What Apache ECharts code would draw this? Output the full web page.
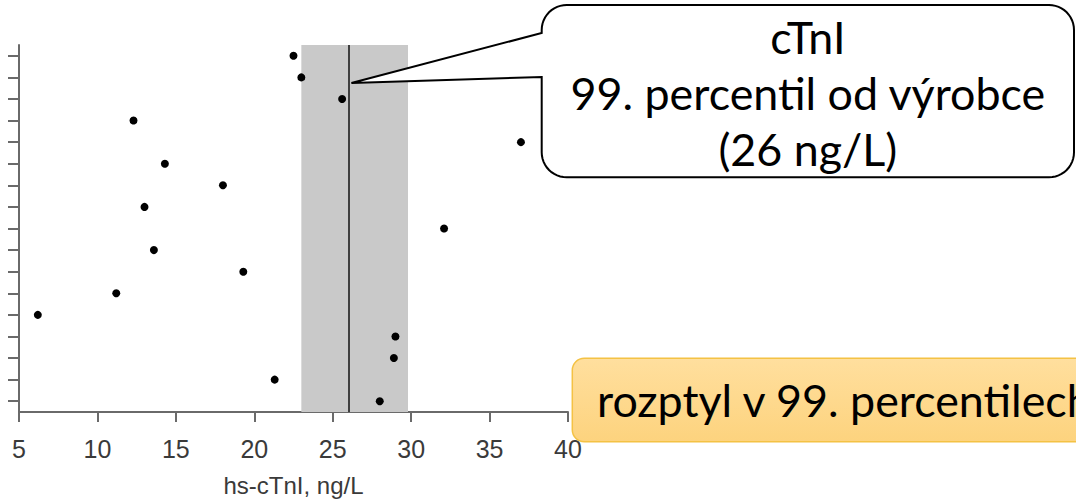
<!DOCTYPE html>
<html>
<head>
<meta charset="utf-8">
<title>hs-cTnI 99. percentil</title>
<script src="https://cdn.jsdelivr.net/npm/echarts@6/dist/echarts.min.js"></script>
<style>
  html, body { margin: 0; padding: 0; background: #ffffff; }
  #chart { width: 1076px; height: 499px; }
  #chart text { font-variant-ligatures: none; font-feature-settings: "liga" 0, "clig" 0; }
</style>
</head>
<body>
<div id="chart"></div>
<script>
// One row per assay, listed from the bottom row upwards
const assayRows = ['1', '2', '3', '4', '5', '6', '7', '8', '9', '10', '11', '12', '13', '14', '15', '16', '17'];
// 99th percentile of each assay, ng/L
const p99Values = [28.0, 21.3, 28.9, 29.0, 6.2, 11.2, 19.3, 13.6, 32.1, 13.0, 18.0, 14.3, 37.0, 12.3, 25.6, 23.0, 22.5];
// Manufacturer's cTnI 99th percentile, ng/L
const mfrP99 = 26;
// Shaded spread of the 99th percentiles, ng/L
const spreadBand = [23, 29.8];
// x axis tick values
const xTicks = [5, 10, 15, 20, 25, 30, 35, 40];

const axisColor = '#6a6a6a';
const calloutFont = '44.8px Lato, "Open Sans", sans-serif';

const chart = echarts.init(document.getElementById('chart'), null, { renderer: 'svg' });

const option = {
  animation: false,
  backgroundColor: '#ffffff',
  grid: { left: 19, right: 508, top: 45, bottom: 87, outerBoundsMode: 'none' },
  xAxis: {
    type: 'value',
    min: xTicks[0],
    max: xTicks[xTicks.length - 1],
    interval: xTicks[1] - xTicks[0],
    name: 'hs-cTnI, ng/L',
    nameLocation: 'middle',
    nameGap: 61,
    nameTextStyle: { fontFamily: '"Liberation Sans", Arial, sans-serif', fontSize: 24, color: '#3a3a3a' },
    axisLine: { show: true, lineStyle: { color: axisColor, width: 2 } },
    axisTick: { show: true, length: 10, lineStyle: { color: axisColor, width: 2 } },
    axisLabel: { fontFamily: '"Liberation Sans", Arial, sans-serif', fontSize: 25, color: '#3a3a3a', margin: 24 },
    splitLine: { show: false }
  },
  yAxis: {
    type: 'category',
    data: assayRows,
    boundaryGap: true,
    axisLine: { show: true, lineStyle: { color: axisColor, width: 2 } },
    axisTick: { show: true, alignWithLabel: true, length: 11, lineStyle: { color: axisColor, width: 2 } },
    axisLabel: { show: false },
    splitLine: { show: false }
  },
  series: [
    {
      type: 'scatter',
      symbol: 'circle',
      symbolSize: 8,
      itemStyle: { color: '#000000', opacity: 1 },
      z: 5,
      data: p99Values.map((v, i) => [v, assayRows[i]]),
      markArea: {
        silent: true,
        itemStyle: { color: '#c9c9c9', opacity: 1 },
        data: [[{ xAxis: spreadBand[0] }, { xAxis: spreadBand[1] }]]
      },
      markLine: {
        silent: true,
        symbol: ['none', 'none'],
        label: { show: false },
        lineStyle: { color: '#111111', width: 1.5, type: 'solid', opacity: 1 },
        data: [{ xAxis: mfrP99 }]
      }
    }
  ]
};

chart.setOption(option);

// Rounded corner as a run of points (angles in degrees, screen orientation)
function arcPoints(cx, cy, rad, a0, a1) {
  const pts = [];
  const steps = 12;
  for (let k = 0; k <= steps; k++) {
    const a = (a0 + (a1 - a0) * k / steps) * Math.PI / 180;
    pts.push([cx + rad * Math.cos(a), cy + rad * Math.sin(a)]);
  }
  return pts;
}

// Speech-bubble outline whose tip points at the manufacturer line
const tipX = chart.convertToPixel({ xAxisIndex: 0 }, mfrP99) + 3;
const tipY = 83;
const bx0 = 541.7, by0 = 5, bx1 = 1074, by1 = 177.3, r = 25;
const bubble = []
  .concat(arcPoints(bx0 + r, by0 + r, r, 180, 270))
  .concat(arcPoints(bx1 - r, by0 + r, r, 270, 360))
  .concat(arcPoints(bx1 - r, by1 - r, r, 0, 90))
  .concat(arcPoints(bx0 + r, by1 - r, r, 90, 180))
  .concat([[bx0, 77], [tipX, tipY], [bx0, 33]]);

const boxCx = (bx0 + bx1) / 2;

chart.setOption({
  graphic: [
    {
      type: 'polygon',
      z: 100,
      shape: { points: bubble },
      style: { fill: '#ffffff', stroke: '#000000', lineWidth: 2, lineJoin: 'miter' }
    },
    {
      type: 'text', z: 101,
      style: { text: 'cTnI', x: boxCx, y: 37, align: 'center', verticalAlign: 'middle', fill: '#000000', font: calloutFont }
    },
    {
      type: 'text', z: 101,
      style: { text: '99. percentil od výrobce', x: boxCx, y: 93, align: 'center', verticalAlign: 'middle', fill: '#000000', font: calloutFont }
    },
    {
      type: 'text', z: 101,
      style: { text: '(' + mfrP99 + ' ng/L)', x: boxCx, y: 149, align: 'center', verticalAlign: 'middle', fill: '#000000', font: calloutFont }
    },
    {
      type: 'rect', z: 100,
      shape: { x: 572.3, y: 358.3, width: 540, height: 83.4, r: 12 },
      style: {
        fill: {
          type: 'linear', x: 0, y: 0, x2: 0, y2: 1,
          colorStops: [
            { offset: 0, color: '#ffdf9e' },
            { offset: 1, color: '#fdd37e' }
          ]
        },
        stroke: '#f4c244',
        lineWidth: 1.5
      }
    },
    {
      type: 'text', z: 101,
      style: { text: 'rozptyl v 99. percentilech', x: 597, y: 400, align: 'left', verticalAlign: 'middle', fill: '#000000', font: calloutFont }
    }
  ]
});
</script>
</body>
</html>
